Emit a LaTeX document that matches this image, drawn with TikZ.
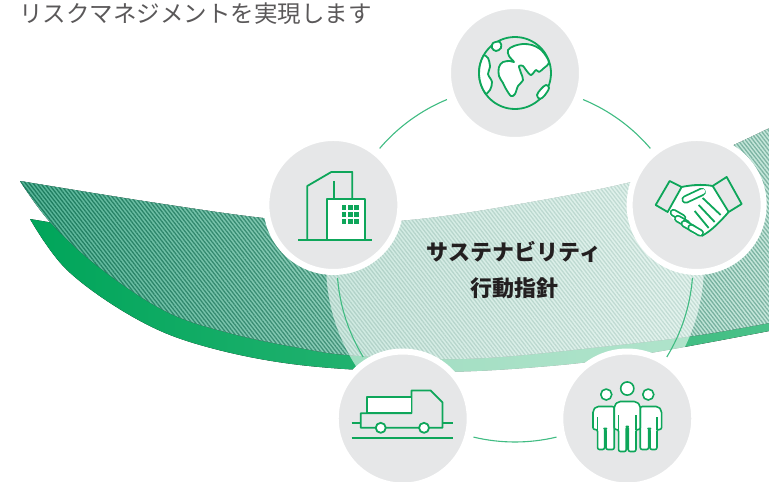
\documentclass[tikz,border=0pt]{standalone}
\usepackage{fontspec}
\newfontfamily\jpfont{Noto Sans CJK JP}
\usetikzlibrary{patterns.meta,fadings}

\definecolor{iconbg}{HTML}{E6E7E8}
\definecolor{icongreen}{HTML}{0EA65A}
\definecolor{ringgreen}{HTML}{40BC82}
\definecolor{stripe}{HTML}{1B7C5E}
\definecolor{hatchL}{HTML}{56B497}
\definecolor{hatchR}{HTML}{9ED7C2}
\definecolor{stripL}{HTML}{00A55A}
\definecolor{stripR}{HTML}{4CC28A}
\definecolor{leadgray}{HTML}{5A5859}
\definecolor{titleink}{HTML}{231F20}

\tikzfading[name=band fade, left color=transparent!100, right color=transparent!55]

% ribbon outlines (pixel grid, y downwards)
\newcommand{\hatchband}{plot[smooth, tension=0.6] coordinates {(20,181) (150,202) (263,218) (340,223) (420,219) (520,204) (627,183) (700,160) (790,118)}
  -- plot[smooth, tension=0.6] coordinates {(790,319) (700,335) (600,347) (500,357) (430,359) (347,355) (300,348) (233,334) (167,312) (100,268) (50,222) (20,181)} -- cycle}
\newcommand{\greenband}{plot[smooth, tension=0.6] coordinates {(30,219) (67,270) (133,317) (200,345) (300,365) (430,372) (550,366) (650,353) (790,327)}
  -- (790,290) -- plot[smooth] coordinates {(500,320) (300,310) (150,270) (60,224)} -- cycle}

\tikzset{
  iconbase/.style={circle, fill=iconbg, draw=white, line width=6pt, minimum size=134pt, inner sep=0pt},
  ringline/.style={ringgreen, line width=1.1pt},
  icon/.style={icongreen, line width=1.8pt, line join=round},
  finger/.style={line cap=round},
}

\begin{document}
\begin{tikzpicture}[x=1pt, y=-1pt]
  \useasboundingbox (0,0) rectangle (769,482);
  \coordinate (ctr) at (515,264);

  % ribbon: green edge, hatched face
  \fill[left color=stripL, right color=stripR] \greenband;
  \fill[left color=hatchL, right color=hatchR] \hatchband;
  \fill[pattern={Lines[angle=-52, distance=3pt, line width=1.3pt]}, pattern color=stripe] \hatchband;
  \fill[white, path fading=band fade] \hatchband;

  % pale disc behind the centre
  \fill[white, fill opacity=0.58] (ctr) circle (189);

  % ring between the five circles
  \foreach \a in {-90,-18,54,126,198} {
    \draw[ringline] ([shift={({\a+22.5}:178)}]ctr) arc[start angle=\a+22.5, end angle=\a+49.5, radius=178];
  }

  % the five circles
  \node[iconbase] (globe) at ([shift={(-90:191)}]ctr) {};
  \node[iconbase] (hands) at ([shift={(-18:191)}]ctr) {};
  \node[iconbase] (people) at ([shift={(54:191)}]ctr) {};
  \node[iconbase] (truck) at ([shift={(126:191)}]ctr) {};
  \node[iconbase] (office) at ([shift={(198:191)}]ctr) {};

  % globe
  \begin{scope}[shift={(globe.center)}, icon]
    \draw (0,0) circle (36);
    \filldraw[fill=white] plot[smooth, tension=0.6] coordinates {(210:36) (-27,-15) (-25,-6) (-27,1) (-23,9) (-25,17) (144:36)}
      arc[start angle=144, end angle=210, radius=36];
    \filldraw[fill=white] plot[smooth cycle, tension=0.55] coordinates {(-4,23) (-9,16) (-12,10) (-16,3) (-16,-6) (-12,-11) (-5,-12) (-1,-11)
      (-6,-17) (-7,-23) (-1,-27) (8,-29) (17,-28) (25,-24) (31,-17) (34,-10) (29,-5) (24,-1) (21,-3) (16,2) (11,-3) (8,-7) (4,-7)
      (6,0) (8,7) (3,13) (0,21)};
    \filldraw[fill=white] plot[smooth cycle, tension=0.6] coordinates {(-22,-30) (-15,-31) (-14,-25) (-19,-22) (-23,-25)};
    \filldraw[fill=white] plot[smooth cycle, tension=0.6] coordinates {(22,22) (26,16) (31,12) (34,15) (30,22) (25,26)};
  \end{scope}

  % office building
  \begin{scope}[shift={(office.center)}, icon]
    \draw (-35,35) -- (39,35);
    \draw (-26,35) -- (-26,-19) -- (-2,-33) -- (19,-33) -- (19,-6);
    \draw (1,-24) -- (1,-6);
    \filldraw[fill=white] (-6,-6) rectangle (32,35);
    \foreach \i in {0,1,2} {
      \foreach \j in {0,1,2} {
        \fill[icongreen] (8.5+6.3*\i,0.5+6.8*\j) rectangle ++(4.6,4.8);
      }
    }
  \end{scope}

  % handshake
  \begin{scope}[shift={(hands.center)}, icon]
    \fill[white] (-15,-18) -- (16,-19) -- (32,7) -- (22,18) -- (8,31) -- (-2,30) -- (-24,14) -- (-29,7) -- cycle;
    \draw (-15,-18) .. controls (-5,-20) and (5,-21) .. (16,-19);
    \draw (32,7) .. controls (25,15) and (15,26) .. (5,31);
    \draw (6,-7) -- (24,10);
    \draw (2,0) -- (18,17);
    \draw (-2,6) -- (12,23);
    \foreach \cx/\cy in {-18.7/10.3, -14.3/16.3, -7.7/21.3, -1/25.3} {
      \draw[finger, line width=7.6pt] (\cx-4.5,\cy-2.6) -- (\cx+4.5,\cy+2.6);
      \draw[finger, white, line width=4pt] (\cx-4.5,\cy-2.6) -- (\cx+4.5,\cy+2.6);
    }
    \draw[finger, line width=8.4pt] (-11,-5.5) -- (5,-13);
    \draw[finger, white, line width=4.8pt] (-11,-5.5) -- (6,-13.5);
    \filldraw[fill=iconbg] (-41,0) -- (-27,-24) -- (-15,-18) -- (-29,7) -- cycle;
    \filldraw[fill=iconbg] (16,-19) -- (30,-28) -- (45,-1) -- (32,7) -- cycle;
  \end{scope}

  % truck
  \begin{scope}[shift={(truck.center)}, icon]
    \draw (-51,19.3) -- (50,19.3);
    \draw (-51,4.7) -- (-42,4.7);
    \draw (40,4.7) -- (50,4.7);
    \draw (-42,-5.3) -- (8.7,-5.3) -- (8.7,-28) -- (28,-28) -- (39.7,-16.3) -- (39.7,9.3) -- (-42,9.3) -- cycle;
    \filldraw[fill=white] (-36,-21.3) rectangle (8.7,-5.3);
    \filldraw[fill=white] (-22,9.3) circle (5);
    \filldraw[fill=white] (21.3,9.3) circle (5);
  \end{scope}

  % three people
  \begin{scope}[shift={(people.center)}, icon, line width=1.6pt]
    \foreach \s in {-1,1} {
      \begin{scope}[xscale=\s]
        \filldraw[fill=white] (-21,-24) circle (5.5);
        \filldraw[fill=white, rounded corners=2] (-29.7,11) -- (-29.7,31) -- (-22.7,31) -- (-22.7,10) -- (-21.3,10) -- (-21.3,31)
          -- (-13,31) -- (-13,-12) -- (-31,-12) -- (-34.3,-8) -- (-34.3,11) -- cycle;
        \draw (-29.7,11) -- (-29.7,-2);
      \end{scope}
    }
    \filldraw[fill=white] (0,-30) circle (6.6);
    \filldraw[fill=white, rounded corners=2] (-8.7,11) -- (-8.7,33) -- (-1,33) -- (-1,8) -- (1,8) -- (1,33) -- (8.7,33) -- (8.7,11)
      -- (13,11) -- (13,-13) -- (9,-17) -- (-9,-17) -- (-13,-13) -- (-13,11) -- cycle;
    \draw (-8.7,11) -- (-8.7,-4);
    \draw (8.7,11) -- (8.7,-4);
  \end{scope}

  % texts
  \node[anchor=base west, inner sep=0pt, text=leadgray, font=\jpfont\fontsize{23.5}{23.5}\selectfont] (lead) at (19,22) {リスクマネジメントを実現します};
  \node[align=center, text=titleink, font=\jpfont\bfseries\fontsize{22}{36}\selectfont] (title) at (514,270) {サステナビリティ\\行動指針};
\end{tikzpicture}
\end{document}
